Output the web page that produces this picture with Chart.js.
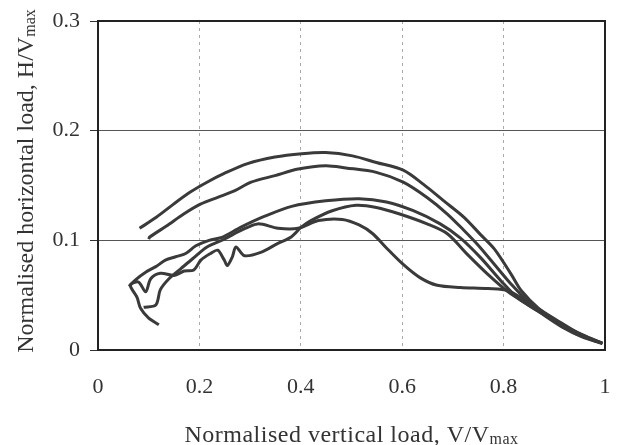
<!DOCTYPE html>
<html>
<head>
<meta charset="utf-8">
<script src="https://cdn.jsdelivr.net/npm/chart.js@4/dist/chart.umd.min.js"></script>
<style>
  html, body { margin: 0; padding: 0; background: #fff; }
  #wrap { width: 621px; height: 445px; }
</style>
</head>
<body>
<div id="wrap"><canvas id="loadChart"></canvas></div>
<script>
// V/Vmax, H/Vmax pairs, one array per loading path
const pathA = [
  [0.082, 0.111], [0.115, 0.121], [0.149, 0.133], [0.182, 0.144], [0.215, 0.153],
  [0.249, 0.161], [0.295, 0.170], [0.349, 0.176], [0.402, 0.179], [0.449, 0.180],
  [0.502, 0.177], [0.549, 0.171], [0.602, 0.164], [0.642, 0.151], [0.682, 0.136],
  [0.722, 0.121], [0.755, 0.105], [0.782, 0.092], [0.815, 0.069], [0.835, 0.054],
  [0.869, 0.038], [0.915, 0.023], [0.955, 0.014], [0.995, 0.006],
];
const pathB = [
  [0.100, 0.101], [0.102, 0.103], [0.135, 0.113], [0.169, 0.124], [0.202, 0.133],
  [0.235, 0.139], [0.269, 0.145], [0.302, 0.153], [0.349, 0.159], [0.395, 0.165],
  [0.449, 0.168], [0.489, 0.166], [0.549, 0.162], [0.602, 0.153], [0.649, 0.139],
  [0.689, 0.124], [0.722, 0.109], [0.749, 0.096], [0.782, 0.078], [0.815, 0.060],
  [0.849, 0.044], [0.895, 0.029], [0.942, 0.015], [0.982, 0.008],
];
const pathC = [
  [0.061, 0.058], [0.074, 0.064], [0.094, 0.071], [0.114, 0.076], [0.133, 0.082],
  [0.153, 0.085], [0.173, 0.088], [0.193, 0.095], [0.219, 0.100], [0.246, 0.103],
  [0.282, 0.112], [0.329, 0.122], [0.382, 0.131], [0.449, 0.136], [0.515, 0.138],
  [0.569, 0.135], [0.622, 0.127], [0.675, 0.115], [0.715, 0.102], [0.755, 0.084],
  [0.795, 0.063], [0.829, 0.047], [0.869, 0.035], [0.915, 0.021], [0.955, 0.012],
  [0.995, 0.006],
];
const pathD = [
  [0.120, 0.023], [0.100, 0.029], [0.084, 0.038], [0.077, 0.048], [0.064, 0.059],
  [0.080, 0.062], [0.094, 0.053], [0.104, 0.065], [0.123, 0.070], [0.150, 0.068],
  [0.170, 0.072], [0.189, 0.073], [0.203, 0.082], [0.222, 0.088], [0.236, 0.091],
  [0.249, 0.082], [0.255, 0.077], [0.265, 0.085], [0.272, 0.094], [0.289, 0.086],
  [0.321, 0.089], [0.354, 0.097], [0.381, 0.103], [0.401, 0.112], [0.420, 0.118],
  [0.462, 0.127], [0.509, 0.132], [0.549, 0.130], [0.595, 0.124], [0.649, 0.115],
  [0.689, 0.106], [0.729, 0.087], [0.769, 0.069], [0.809, 0.053], [0.849, 0.041],
  [0.902, 0.026], [0.949, 0.014], [0.995, 0.006],
];
const pathE = [
  [0.090, 0.039], [0.114, 0.041], [0.123, 0.055], [0.140, 0.065], [0.163, 0.074],
  [0.186, 0.083], [0.215, 0.094], [0.249, 0.101], [0.282, 0.109], [0.315, 0.115],
  [0.355, 0.111], [0.395, 0.111], [0.435, 0.118], [0.482, 0.119], [0.515, 0.114],
  [0.542, 0.106], [0.569, 0.093], [0.602, 0.078], [0.635, 0.066], [0.669, 0.059],
  [0.715, 0.057], [0.769, 0.056], [0.809, 0.054], [0.849, 0.043], [0.902, 0.028],
  [0.949, 0.015], [0.995, 0.006],
];

const xTicks = [0, 0.2, 0.4, 0.6, 0.8, 1];
const yTicks = [0, 0.1, 0.2, 0.3];

const lineColor = '#3a3a3a';
const serif = '"Liberation Serif", "Times New Roman", serif';

const toPoints = (pairs) => pairs.map(([x, y]) => ({ x, y }));

// draws the frame box and the two axis titles (with subscript "max")
const framePlugin = {
  id: 'frame',
  afterDatasetsDraw(chart) {
    const { ctx, chartArea: a } = chart;
    ctx.save();
    ctx.strokeStyle = '#222';
    ctx.lineWidth = 2;
    ctx.strokeRect(a.left, a.top, a.right - a.left, a.bottom - a.top);
    ctx.restore();
  },
  afterDraw(chart) {
    const { ctx, chartArea: a } = chart;
    const drawTitle = (main, sub, cx, cy, rot, spacing) => {
      ctx.save();
      ctx.translate(cx, cy);
      ctx.rotate(rot);
      ctx.letterSpacing = spacing;
      ctx.fillStyle = '#333';
      ctx.textBaseline = 'alphabetic';
      ctx.font = '24px ' + serif;
      const w1 = ctx.measureText(main).width;
      ctx.font = '16px ' + serif;
      const w2 = ctx.measureText(sub).width;
      const start = -(w1 + w2) / 2;
      ctx.font = '24px ' + serif;
      ctx.fillText(main, start, 0);
      ctx.font = '16px ' + serif;
      ctx.fillText(sub, start + w1, 2);
      ctx.restore();
    };
    drawTitle('Normalised vertical load, V/V', 'max', (a.left + a.right) / 2, 442, 0, '0.5px');
    drawTitle('Normalised horizontal load, H/V', 'max', 33, 181, -Math.PI / 2, '0px');
  },
};

const makeSet = (pairs) => ({
  data: toPoints(pairs),
  showLine: true,
  borderColor: lineColor,
  borderWidth: 3,
  pointRadius: 0,
  tension: 0.3,
  fill: false,
});

new Chart(document.getElementById('loadChart'), {
  type: 'scatter',
  data: {
    datasets: [pathA, pathB, pathC, pathD, pathE].map(makeSet),
  },
  plugins: [framePlugin],
  options: {
    responsive: true,
    maintainAspectRatio: false,
    animation: false,
    layout: { padding: { top: 21, right: 16, left: 0, bottom: 0 } },
    plugins: { legend: { display: false }, tooltip: { enabled: false } },
    scales: {
      x: {
        type: 'linear',
        min: 0,
        max: 1,
        afterBuildTicks: (scale) => { scale.ticks = xTicks.map((v) => ({ value: v })); },
        afterFit: (scale) => {
          scale.height = 95;
          scale.paddingLeft = 0;
          scale.paddingRight = 0;
        },
        grid: { color: '#aaa', lineWidth: 1, drawTicks: false },
        border: { display: false, dash: [3, 4] },
        ticks: {
          padding: 24,
          color: '#333',
          font: { family: serif, size: 22 },
          maxRotation: 0,
          callback: (v) => String(v),
        },
      },
      y: {
        type: 'linear',
        min: 0,
        max: 0.3,
        afterBuildTicks: (scale) => { scale.ticks = yTicks.map((v) => ({ value: v })); },
        afterFit: (scale) => {
          scale.width = 98;
          scale.paddingTop = 0;
          scale.paddingBottom = 0;
        },
        grid: { color: '#555', lineWidth: 1, tickLength: 8, tickColor: '#333' },
        border: { display: false },
        ticks: {
          padding: 10,
          color: '#333',
          font: { family: serif, size: 22 },
          callback: (v) => String(v),
        },
      },
    },
  },
});
</script>
</body>
</html>
